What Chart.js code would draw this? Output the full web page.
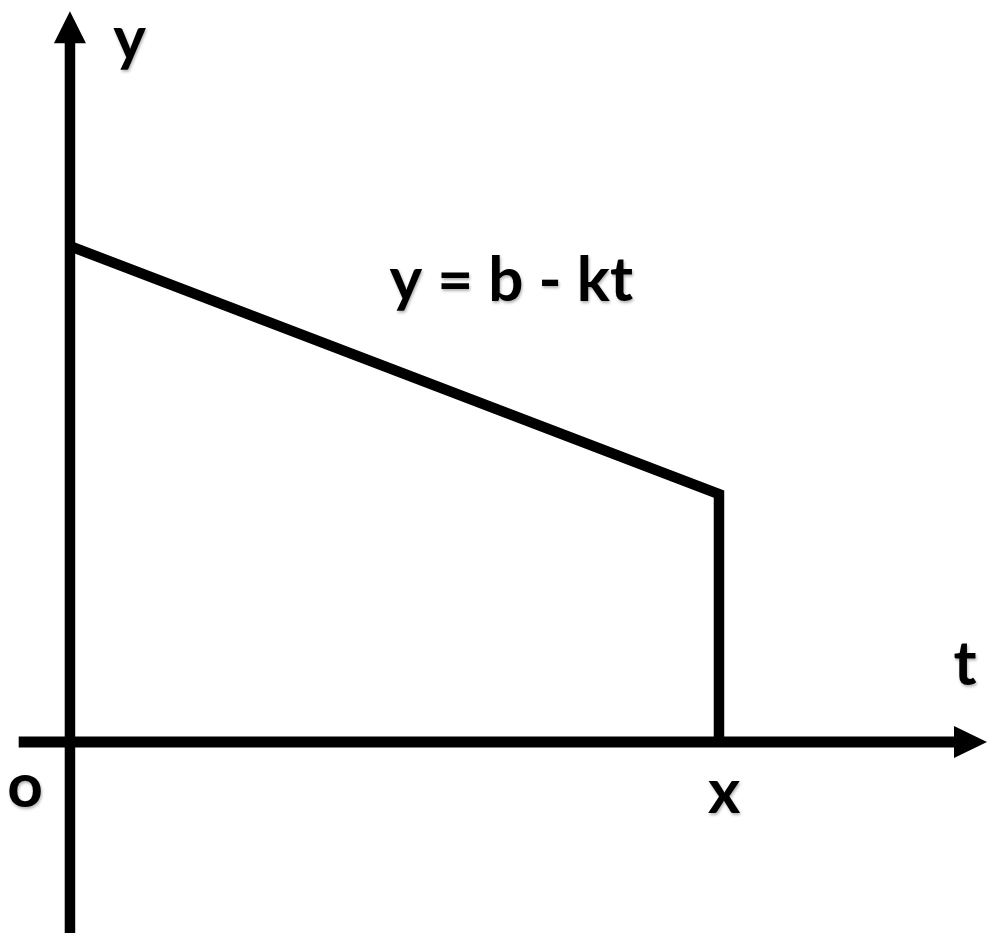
<!DOCTYPE html>
<html>
<head>
<meta charset="utf-8">
<script src="https://cdn.jsdelivr.net/npm/chart.js@4/dist/chart.umd.min.js"></script>
<style>
  html,body{margin:0;padding:0;background:#fff;}
  #c{display:block;}
</style>
</head>
<body>
<canvas id="c" width="1000" height="942"></canvas>
<script>
// curve y = b - kt, cut off at t = x
const curveT=[0,10,10];
const curveY=[8,4,0];

// axis extents (data units): tail end, arrow tip
const tAxisRange=[-0.79,14.13];
const yAxisRange=[-3.08,11.79];

// text labels and where they sit (data units, baseline centre)
const labelTexts=['y','t','o','x','y = b - kt'];
const labelT=[0.92,13.79,-0.69,10.08,6.80];
const labelY=[11.0,0.92,-1.05,-1.15,7.11];

const ink='#000';

const arrowsAndLabels={
  id:'arrowsAndLabels',
  afterDatasetsDraw(chart){
    const ctx=chart.ctx;
    const xs=chart.scales.x, ys=chart.scales.y;
    const ox=xs.getPixelForValue(0), oy=ys.getPixelForValue(0);
    ctx.save();
    ctx.fillStyle=ink;
    // arrow on t axis
    const tx=xs.getPixelForValue(tAxisRange[1]);
    ctx.beginPath();
    ctx.moveTo(tx,oy);
    ctx.lineTo(tx-33,oy-16);
    ctx.lineTo(tx-33,oy+16);
    ctx.closePath();
    ctx.fill();
    // arrow on y axis
    const ty=ys.getPixelForValue(yAxisRange[1]);
    ctx.beginPath();
    ctx.moveTo(ox,ty);
    ctx.lineTo(ox-16,ty+32);
    ctx.lineTo(ox+16,ty+32);
    ctx.closePath();
    ctx.fill();
    // labels
    ctx.font='bold 62px Lato, "Liberation Sans", sans-serif';
    ctx.textAlign='center';
    ctx.textBaseline='alphabetic';
    ctx.shadowColor='rgba(0,0,0,0.3)';
    ctx.shadowBlur=3;
    ctx.shadowOffsetX=1;
    ctx.shadowOffsetY=2;
    labelTexts.forEach((txt,i)=>{
      ctx.fillText(txt,xs.getPixelForValue(labelT[i]),ys.getPixelForValue(labelY[i]));
    });
    ctx.restore();
  }
};

const lineStyle={
  borderColor:ink,
  borderWidth:10.5,
  pointRadius:0,
  showLine:true,
  fill:false,
  tension:0,
  borderCapStyle:'butt',
  borderJoinStyle:'miter'
};

new Chart(document.getElementById('c'),{
  type:'scatter',
  data:{
    datasets:[
      Object.assign({data:tAxisRange.map((t,i)=>({x:i===1?t-0.3:t,y:0}))},lineStyle,{borderWidth:11}),
      Object.assign({data:yAxisRange.map((v,i)=>({x:0,y:i===1?v-0.3:v}))},lineStyle,{borderWidth:10.5}),
      Object.assign({data:curveT.map((t,i)=>({x:t,y:curveY[i]}))},lineStyle)
    ]
  },
  options:{
    responsive:false,
    devicePixelRatio:1,
    animation:false,
    layout:{padding:0},
    plugins:{legend:{display:false},tooltip:{enabled:false}},
    scales:{
      x:{type:'linear',display:false,min:-1.078,max:14.33},
      y:{type:'linear',display:false,min:-3.226,max:11.97}
    }
  },
  plugins:[arrowsAndLabels]
});
</script>
</body>
</html>
